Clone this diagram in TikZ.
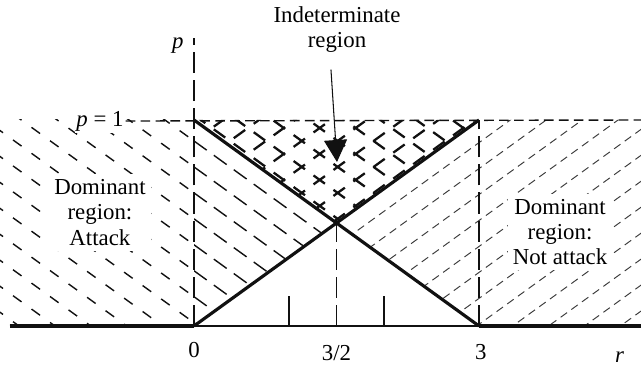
\documentclass[tikz,border=0pt]{standalone}
\usepackage{fontspec}
\setmainfont{Liberation Serif}
\usetikzlibrary{arrows.meta,positioning,calc}
\definecolor{Ink}{HTML}{111111}
\definecolor{Hatch}{HTML}{3C3C3C}

\begin{document}
\begin{tikzpicture}[x=1.9cm,y=4.12cm,
    lbl/.style={font=\fontsize{13}{14.5}\selectfont,align=center,inner sep=1pt},
    box/.style={lbl,fill=white,inner sep=3pt},
    bound/.style={line width=1.8pt,draw=Ink},
    guide/.style={line width=0.8pt,draw=Ink,dash pattern=on 12pt off 4pt},
    hl/.style={line width=0.8pt,draw=Ink,dash pattern=on 6pt off 7pt},
    ht/.style={line width=0.8pt,draw=Ink,dash pattern=on 9pt off 5pt},
    hr/.style={line width=0.55pt,draw=Hatch,dash pattern=on 4.5pt off 3pt},
    hx/.style={line width=1.3pt,draw=Ink,dash pattern=on 8pt off 6pt},
    a/.style={-{Triangle[length=4.4mm,width=4.6mm]},line width=0.6pt,draw=Ink}]
  \useasboundingbox (-2.042,-0.2233) rectangle (4.705,1.5825);
  \coordinate (O) at (0,0);
  \coordinate (P) at (0,1);
  \coordinate (R) at (3,0);
  \coordinate (Q) at (3,1);
  \coordinate (M) at (1.5,0.5);
  \coordinate (H) at (1.5,0);
  \coordinate (xl) at (-1.94,0);
  \coordinate (xr) at (4.705,0);
  \coordinate (ptop) at (0,1.398);
  \coordinate (qr) at (4.705,1);
  % hatching: attack side
  \begin{scope}
    \clip (-2.05,0) rectangle (0,1);
    \foreach \c in {-2.0,-1.874,...,2.2} \draw[hl] (-2.1,{\c+0.7}) -- (4.8,{\c-1.6});
  \end{scope}
  \begin{scope}
    \clip (O) -- (M) -- (P) -- cycle;
    \foreach \c in {-2.0,-1.874,...,2.2} \draw[ht] (-2.1,{\c+0.7}) -- (4.8,{\c-1.6});
  \end{scope}
  % hatching: not attack side
  \begin{scope}
    \clip (R) -- (4.75,0) -- (4.75,1) -- (Q) -- (M) -- cycle;
    \foreach \c in {-2.0,-1.874,...,2.2} \draw[hr] (-2.1,{\c-0.7}) -- (4.8,{\c+1.6});
  \end{scope}
  % hatching: both
  \begin{scope}
    \clip (P) -- (Q) -- (M) -- cycle;
    \foreach \c in {-2.0,-1.874,...,2.2} {
      \draw[hx] (-2.1,{\c+0.7}) -- (4.8,{\c-1.6});
      \draw[hx] (-2.1,{\c-0.7}) -- (4.8,{\c+1.6});
    }
  \end{scope}
  % axes and guides
  \draw[line width=0.6pt,draw=Ink] (xl) -- (xr);
  \draw[line width=2pt,draw=Ink] (xl) -- (O);
  \draw[line width=2pt,draw=Ink] (R) -- (xr);
  \draw[guide] (O) -- (ptop);
  \draw[guide] (R) -- (Q);
  \draw[guide] (H) -- (M);
  \foreach \t in {1,2} \draw[line width=0.6pt,draw=Ink] (\t,0) -- (\t,0.145);
  \node[box,inner sep=1pt] (p1) at (-0.99,0.995) {\textit{p} = 1};
  \draw[line width=0.8pt,draw=Ink,dash pattern=on 5.5pt off 3pt] (p1.east) -- (qr);
  \draw[bound] (P) -- (R);
  \draw[bound] (O) -- (Q);
  % labels
  \node[lbl] (plab) at (-0.17,1.36) {\textit{p}};
  \node[box] (att) at (-0.99,0.553) {Dominant\\region:\\Attack};
  \node[box] (natt) at (3.853,0.456) {Dominant\\region:\\Not attack};
  \node[lbl] (ind) at (1.505,1.44) {Indeterminate\\region};
  \coordinate (tip) at (1.505,0.796);
  \draw[a,shorten <=3mm] ([xshift=-1.4mm]ind.south) -- (tip);
  \node[lbl] (l0) at (0,-0.117) {0};
  \node[lbl] (l15) at (1.5,-0.131) {3/2};
  \node[lbl] (l3) at (3.02,-0.126) {3};
  \node[lbl] (lr) at (4.48,-0.15) {\textit{r}};
\end{tikzpicture}
\end{document}
